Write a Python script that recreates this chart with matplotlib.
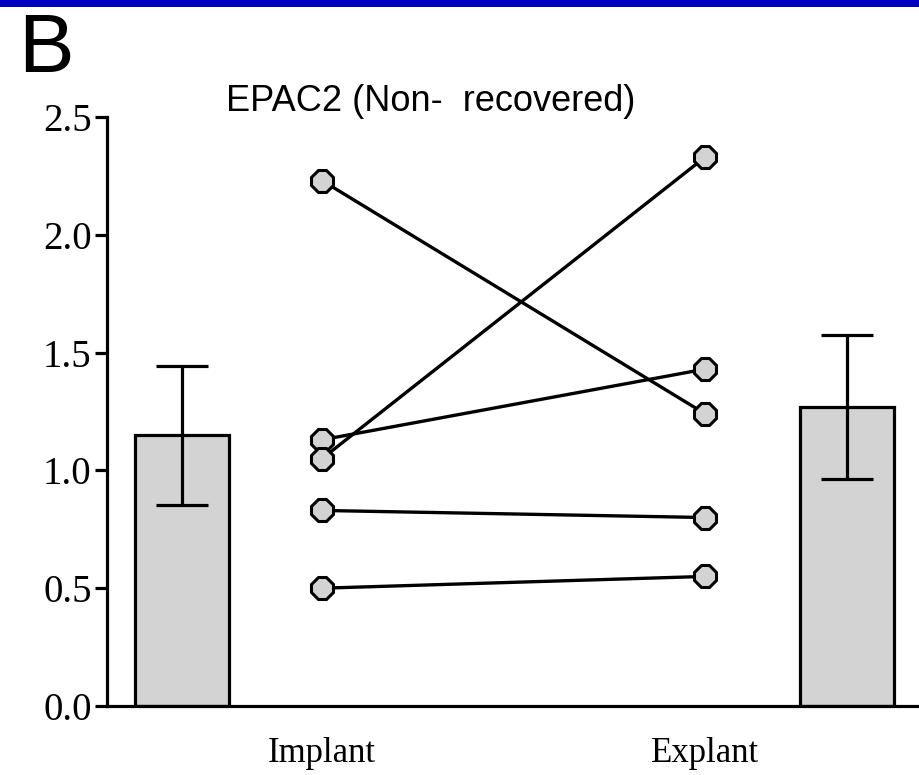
import matplotlib.pyplot as plt
from matplotlib.patches import Rectangle

# Data
groups = ['Implant', 'Explant']
implant_vals = [2.23, 1.13, 1.05, 0.83, 0.50]
explant_vals = [1.24, 1.43, 2.33, 0.80, 0.55]
bar_means = [1.15, 1.27]
bar_errs = [0.295, 0.305]
yticks = [0.0, 0.5, 1.0, 1.5, 2.0, 2.5]
ytick_labels = ['0.0', '0.5', '1.0', '1.5', '2.0', '2.5']

# x layout (points in the middle, summary bars at the sides)
bar_x = [0.0, 4.75]
pt_x = [1.0, 3.736]

fig = plt.figure(figsize=(9.2, 7.75), dpi=100, facecolor='white')
fig.patches.append(Rectangle((0, 1 - 7 / 775), 1, 7 / 775, transform=fig.transFigure,
                             facecolor='#0000c0', edgecolor='none'))

ax = fig.add_axes([107 / 920, 69 / 775, 1 - 107 / 920, 589 / 775])

ax.bar(bar_x, bar_means, width=0.67, color='#d3d3d3', edgecolor='black', linewidth=2.3, zorder=2)
ax.errorbar(bar_x, bar_means, yerr=bar_errs, fmt='none', ecolor='black', elinewidth=2.3,
            capsize=19, capthick=2.3, zorder=3)

for a, b in zip(implant_vals, explant_vals):
    ax.plot(pt_x, [a, b], color='black', linewidth=2.4, marker='8', markersize=16.5,
            markerfacecolor='#d3d3d3', markeredgecolor='black', markeredgewidth=2.2, zorder=4)

ax.set_xlim(-0.536, 5.27)
ax.set_ylim(0, 2.5)
ax.set_yticks(yticks)
ax.set_yticklabels(ytick_labels, family='Liberation Serif', fontsize=28)
ax.set_xticks(pt_x)
ax.set_xticklabels(groups, family='Liberation Serif', fontsize=25)
ax.tick_params(axis='x', length=0, pad=22)
ax.tick_params(axis='y', length=9, width=2.3, pad=2)

for s in ['top', 'right']:
    ax.spines[s].set_visible(False)
for s in ['left', 'bottom']:
    ax.spines[s].set_linewidth(2.3)

fig.text(226 / 920, 1 - 111 / 775, 'EPAC2 (Non-  recovered)', family='Liberation Sans',
         fontsize=26, ha='left', va='baseline')
fig.text(18 / 920, 1 - 72 / 775, 'B', family='Liberation Sans', fontsize=60,
         ha='left', va='baseline')

fig.savefig('out.png', dpi=100, facecolor='white')
